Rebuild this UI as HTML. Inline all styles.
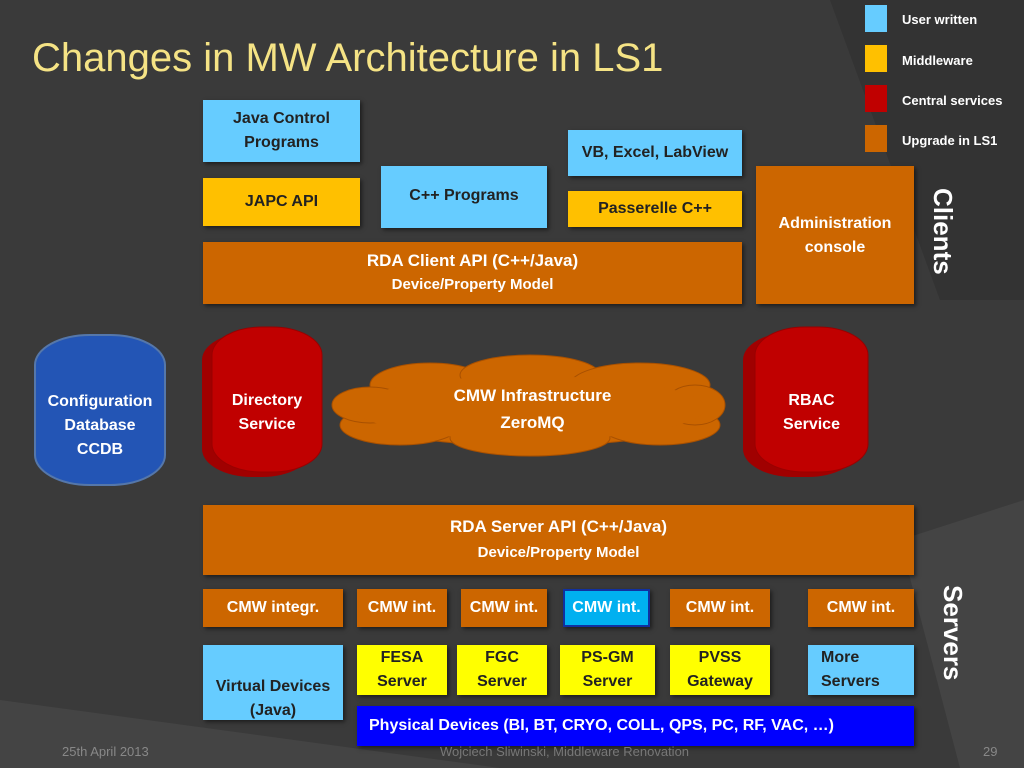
<!DOCTYPE html>
<html><head><meta charset="utf-8"><style>
body{margin:0;width:1024px;height:768px;overflow:hidden;background:#3a3a3a;font-family:"Liberation Sans",sans-serif;position:relative}
.b{position:absolute;box-sizing:border-box;display:flex;align-items:center;justify-content:center;text-align:center;font-weight:bold;font-size:16px;line-height:24px;box-shadow:2px 2px 4px rgba(0,0,0,.5)}
.lb{background:#66ccff;color:#222}
.yw{background:#ffc000;color:#222}
.or{background:#cc6600;color:#fff}
.ye{background:#ffff00;color:#222}
.lg{position:absolute;width:22px;height:27px;left:865px}
.lt{position:absolute;left:902px;color:#fff;font-size:13px;font-weight:bold}
.v{position:absolute;color:#fff;font-weight:bold;font-size:26px;transform:rotate(90deg);transform-origin:left top;white-space:nowrap}
</style></head><body>
<svg width="1024" height="768" style="position:absolute;left:0;top:0">
<polygon points="830,0 1024,0 1024,300 940,300" fill="#333"/>
<polygon points="0,700 500,768 0,768" fill="#444"/>
<polygon points="900,540 1024,500 1024,768 960,768" fill="#444"/>
</svg>
<div style="position:absolute;left:32px;top:36px;font-size:40px;color:#f5e385;white-space:nowrap">Changes in MW Architecture in LS1</div>
<div class="lg" style="top:5px;background:#66ccff"></div><div class="lt" style="top:12px">User written</div>
<div class="lg" style="top:45px;background:#ffc000"></div><div class="lt" style="top:53px">Middleware</div>
<div class="lg" style="top:85px;background:#c00000"></div><div class="lt" style="top:93px">Central services</div>
<div class="lg" style="top:125px;background:#cc6600"></div><div class="lt" style="top:133px">Upgrade in LS1</div>

<div class="b lb" style="left:203px;top:100px;width:157px;height:62px">Java Control<br>Programs</div>
<div class="b yw" style="left:203px;top:178px;width:157px;height:48px">JAPC API</div>
<div class="b lb" style="left:381px;top:166px;width:166px;height:62px;align-items:flex-start;padding-top:18px">C++ Programs</div>
<div class="b lb" style="left:568px;top:130px;width:174px;height:46px">VB, Excel, LabView</div>
<div class="b yw" style="left:568px;top:191px;width:174px;height:36px">Passerelle C++</div>
<div class="b or" style="left:756px;top:166px;width:158px;height:138px;align-items:flex-start;padding-top:46px">Administration<br>console</div>
<div class="b or" style="left:203px;top:242px;width:539px;height:62px;flex-direction:column;font-size:17px"><div>RDA Client API (C++/Java)</div><div style="font-size:15px">Device/Property Model</div></div>
<div class="v" style="left:958px;top:188px">Clients</div>

<svg width="1024" height="768" style="position:absolute;left:0;top:0">
<rect x="35" y="335" width="130" height="150" rx="55" ry="30" fill="#2355b5" stroke="#5577aa" stroke-width="2"/>
<rect x="202" y="332" width="110" height="145" rx="50" ry="28" fill="#a00000"/>
<rect x="212" y="327" width="110" height="145" rx="50" ry="28" fill="#c00000" stroke="#900" />
<rect x="743" y="332" width="115" height="145" rx="50" ry="28" fill="#a00000"/>
<rect x="755" y="327" width="113" height="145" rx="50" ry="28" fill="#c00000" stroke="#900"/>
<g fill="#cc6600" stroke="#a85000" stroke-width="1">
<ellipse cx="530" cy="408" rx="190" ry="38"/>
<ellipse cx="430" cy="385" rx="60" ry="22"/><ellipse cx="530" cy="375" rx="70" ry="20"/><ellipse cx="640" cy="385" rx="70" ry="22"/>
<ellipse cx="400" cy="425" rx="60" ry="20"/><ellipse cx="530" cy="438" rx="80" ry="18"/><ellipse cx="660" cy="425" rx="60" ry="20"/>
<ellipse cx="370" cy="405" rx="38" ry="18"/><ellipse cx="695" cy="405" rx="30" ry="20"/>
</g>
<ellipse cx="530" cy="408" rx="175" ry="32" fill="#cc6600"/>
</svg>
<div style="position:absolute;left:35px;top:390px;width:130px;text-align:center;color:#fff;font-weight:bold;font-size:16px;line-height:24px">Configuration<br>Database<br>CCDB</div>
<div style="position:absolute;left:212px;top:389px;width:110px;text-align:center;color:#fff;font-weight:bold;font-size:16px;line-height:24px">Directory<br>Service</div>
<div style="position:absolute;left:755px;top:389px;width:113px;text-align:center;color:#fff;font-weight:bold;font-size:16px;line-height:24px">RBAC<br>Service</div>
<div style="position:absolute;left:400px;top:382px;width:265px;text-align:center;color:#fff;font-weight:bold;font-size:17px;line-height:27px">CMW Infrastructure<br>ZeroMQ</div>

<div class="b or" style="left:203px;top:505px;width:711px;height:70px;flex-direction:column;font-size:17px;line-height:26px"><div>RDA Server API (C++/Java)</div><div style="font-size:15px">Device/Property Model</div></div>

<div class="b or" style="left:203px;top:589px;width:140px;height:38px">CMW integr.</div>
<div class="b or" style="left:357px;top:589px;width:90px;height:38px">CMW int.</div>
<div class="b or" style="left:461px;top:589px;width:86px;height:38px">CMW int.</div>
<div class="b" style="left:563px;top:589px;width:87px;height:38px;background:#00b0f0;border:2px solid #1030a0;color:#fff">CMW int.</div>
<div class="b or" style="left:670px;top:589px;width:100px;height:38px">CMW int.</div>
<div class="b or" style="left:808px;top:589px;width:106px;height:38px">CMW int.</div>
<div class="v" style="left:968px;top:585px">Servers</div>

<div class="b lb" style="left:203px;top:645px;width:140px;height:75px;padding-top:32px">Virtual Devices<br>(Java)</div>
<div class="b ye" style="left:357px;top:645px;width:90px;height:50px">FESA<br>Server</div>
<div class="b ye" style="left:457px;top:645px;width:90px;height:50px">FGC<br>Server</div>
<div class="b ye" style="left:560px;top:645px;width:95px;height:50px">PS-GM<br>Server</div>
<div class="b ye" style="left:670px;top:645px;width:100px;height:50px">PVSS<br>Gateway</div>
<div class="b lb" style="left:808px;top:645px;width:106px;height:50px;justify-content:flex-start;text-align:left;padding-left:13px">More<br>Servers</div>
<div class="b" style="left:357px;top:706px;width:557px;height:40px;background:#0000ff;color:#fff;justify-content:flex-start;padding-left:12px">Physical Devices (BI, BT, CRYO, COLL, QPS, PC, RF, VAC, …)</div>

<div style="position:absolute;left:62px;top:744px;font-size:13px;color:#888">25th April 2013</div>
<div style="position:absolute;left:440px;top:744px;font-size:13px;color:#777">Wojciech Sliwinski, Middleware Renovation</div>
<div style="position:absolute;left:983px;top:744px;font-size:13px;color:#888">29</div>
</body></html>
